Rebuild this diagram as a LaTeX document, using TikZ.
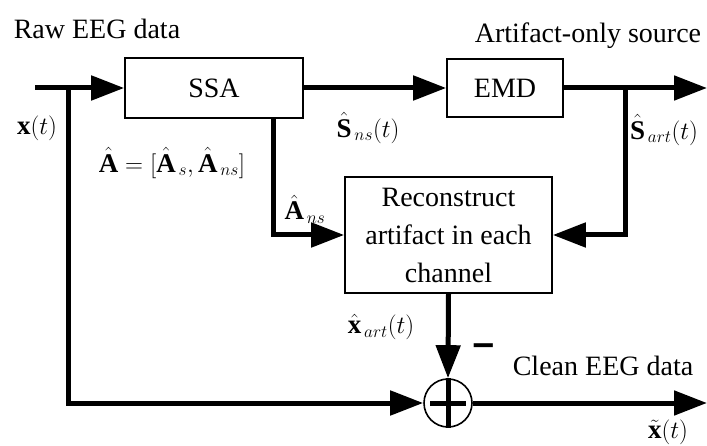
\documentclass[tikz,border=0pt]{standalone}
\usepackage{fontspec}
\setmainfont{Liberation Serif}
\usepackage{amsmath}
\usetikzlibrary{arrows.meta}
\begin{document}
\begin{tikzpicture}[x=1pt,y=-1pt,
  blockbox/.style={draw,line width=1.6pt,align=center,inner sep=0pt,
    font=\fontsize{28}{38}\selectfont},
  sig/.style={line width=5pt,line cap=butt},
  sigarrow/.style={sig,-{Triangle[length=33pt,width=24pt]}},
  lbl/.style={inner sep=0pt,font=\fontsize{28}{32}\selectfont},
  mlbl/.style={inner sep=0pt,font=\fontsize{27}{30}\selectfont}]
\useasboundingbox (0,0) rectangle (707,446);

% processing blocks
\node[blockbox,minimum width=178pt,minimum height=60pt] (ssa) at (214,88) {SSA};
\node[blockbox,minimum width=116pt,minimum height=58pt] (emd) at (505,88) {EMD};
\node[blockbox,minimum width=207pt,minimum height=116pt] (rec) at (448.5,235)
  {Reconstruct\\artifact in each\\channel};
\node[draw,circle,line width=1.6pt,minimum size=48pt,inner sep=0pt] (sum) at (448,403) {};
\draw[sig] (sum.north) -- (sum.south);
\draw[sig] ([xshift=-18pt]sum.center) -- ([xshift=18pt]sum.center);

% branch points and free ends
\coordinate (in) at (35,88);
\coordinate (xsplit) at (68,88);
\coordinate (xcorner) at (68,403);
\coordinate (asplit) at (273,118);
\coordinate (ssplit) at (625,88);
\coordinate (srcout) at (707,88);
\coordinate (cleanout) at (707,403);

% signal paths
\draw[sigarrow] (in) -- (ssa.west);
\draw[sigarrow] (ssa.east) -- (emd.west);
\draw[sigarrow] (emd.east) -- (srcout);
\draw[sigarrow] (ssplit) |- (rec.east);
\draw[sigarrow] (asplit) |- (rec.west);
\draw[sigarrow] (xsplit) -- (xcorner) -- (sum.west);
\draw[sigarrow] (rec.south) -- (sum.north);
\draw[sigarrow] (sum.east) -- (cleanout);

% labels
\node[lbl] (raw) at (97,29) {Raw EEG data};
\node[lbl] (artsrc) at (588,36) {Artifact-only source};
\node[lbl] (clean) at (603,366) {Clean EEG data};
\node[mlbl] (xt) at (37,128) {$\mathbf{x}(t)$};
\node[mlbl] (amix) at (172,163) {$\hat{\mathbf{A}}=[\hat{\mathbf{A}}_{\,s},\hat{\mathbf{A}}_{\,ns}]$};
\node[mlbl] (sns) at (368,128) {$\hat{\mathbf{S}}_{\,ns}(t)$};
\node[mlbl] (sart) at (664,130) {$\hat{\mathbf{S}}_{\,art}(t)$};
\node[mlbl] (ans) at (305,209) {$\hat{\mathbf{A}}_{\,ns}$};
\node[mlbl] (xart) at (381,327) {$\hat{\mathbf{x}}_{\,art}(t)$};
\node[inner sep=0pt,font=\fontsize{46}{46}\selectfont\bfseries,xscale=1.6] (minus) at (484,350) {-};
\node[mlbl] (xclean) at (668,432) {$\tilde{\mathbf{x}}(t)$};
\end{tikzpicture}
\end{document}
